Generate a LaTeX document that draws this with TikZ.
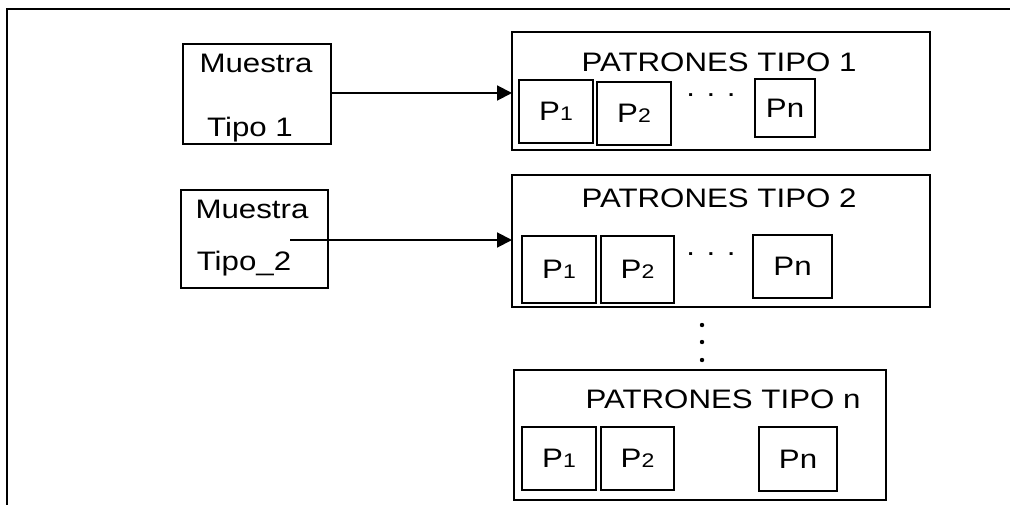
\documentclass[tikz,border=0pt]{standalone}
\usepackage{fontspec}
\setmainfont[FakeStretch=1.17]{Liberation Sans}
\usetikzlibrary{arrows.meta}

\tikzset{
  box/.style={draw, line width=0.8pt, inner sep=0pt, outer sep=0pt, anchor=north west,
    font=\fontsize{19}{21}\selectfont},
  lbl/.style={anchor=base, inner sep=0pt, font=\fontsize{19}{21}\selectfont},
  flecha/.style={line width=1.4pt, -{Triangle[length=10.5pt,width=10.5pt]}},
}
\newcommand{\psub}[1]{{\fontsize{14}{15}\selectfont #1}}

\begin{document}
\begin{tikzpicture}[x=0.025cm, y=-0.025cm]
\useasboundingbox (0,0) rectangle (1010,505);
\draw[line width=1.3pt] (1010,9) -- (7,9) -- (7,505);

% muestras
\node[box, minimum width=3.7cm, minimum height=2.5cm] (m1) at (183,44) {};
\node[lbl] (m1a) at (256,73) {Muestra};
\node[lbl] (m1b) at (250,137) {Tipo 1};

\node[box, minimum width=3.675cm, minimum height=2.45cm] (m2) at (181,190) {};
\node[lbl] (m2a) at (252,218) {Muestra};
\node[lbl] (m2b) at (244,270) {Tipo\_2};

% patrones tipo 1
\node[box, line width=1pt, minimum width=10.45cm, minimum height=2.95cm] (pat1) at (512,32) {};
\node[lbl] (t1) at (719,72) {PATRONES TIPO 1};
\node[box, minimum width=1.85cm, minimum height=1.575cm] (p11) at (519,80) {P\psub{1}};
\node[box, minimum width=1.85cm, minimum height=1.575cm] (p12) at (597,82) {P\psub{2}};
\node[lbl] (d1) at (711,97) {. . .};
\node[box, minimum width=1.5cm, minimum height=1.45cm] (p1n) at (755,79) {Pn};

% patrones tipo 2
\node[box, line width=1pt, minimum width=10.45cm, minimum height=3.3cm] (pat2) at (512,175) {};
\node[lbl] (t2) at (719,207) {PATRONES TIPO 2};
\node[box, minimum width=1.85cm, minimum height=1.675cm] (p21) at (522,236) {P\psub{1}};
\node[box, minimum width=1.825cm, minimum height=1.675cm] (p22) at (601,236) {P\psub{2}};
\node[lbl] (d2) at (711,255) {. . .};
\node[box, minimum width=1.975cm, minimum height=1.575cm] (p2n) at (753,235) {Pn};

% puntos verticales
\foreach \y in {325,342,360}
  \fill (702,\y) circle (2.2);

% patrones tipo n
\node[box, line width=1pt, minimum width=9.3cm, minimum height=3.25cm] (patn) at (514,370) {};
\node[lbl] (tn) at (723,408) {PATRONES TIPO n};
\node[box, minimum width=1.85cm, minimum height=1.575cm] (pn1) at (522,427) {P\psub{1}};
\node[box, minimum width=1.825cm, minimum height=1.575cm] (pn2) at (601,427) {P\psub{2}};
\node[box, minimum width=1.95cm, minimum height=1.6cm] (pnn) at (759,427) {Pn};

% flechas
\coordinate (a1) at (331,93);
\coordinate (a2) at (290,240);
\draw[flecha] (a1) -- (a1 -| pat1.west);
\draw[flecha] (a2) -- (a2 -| pat2.west);
\end{tikzpicture}
\end{document}
